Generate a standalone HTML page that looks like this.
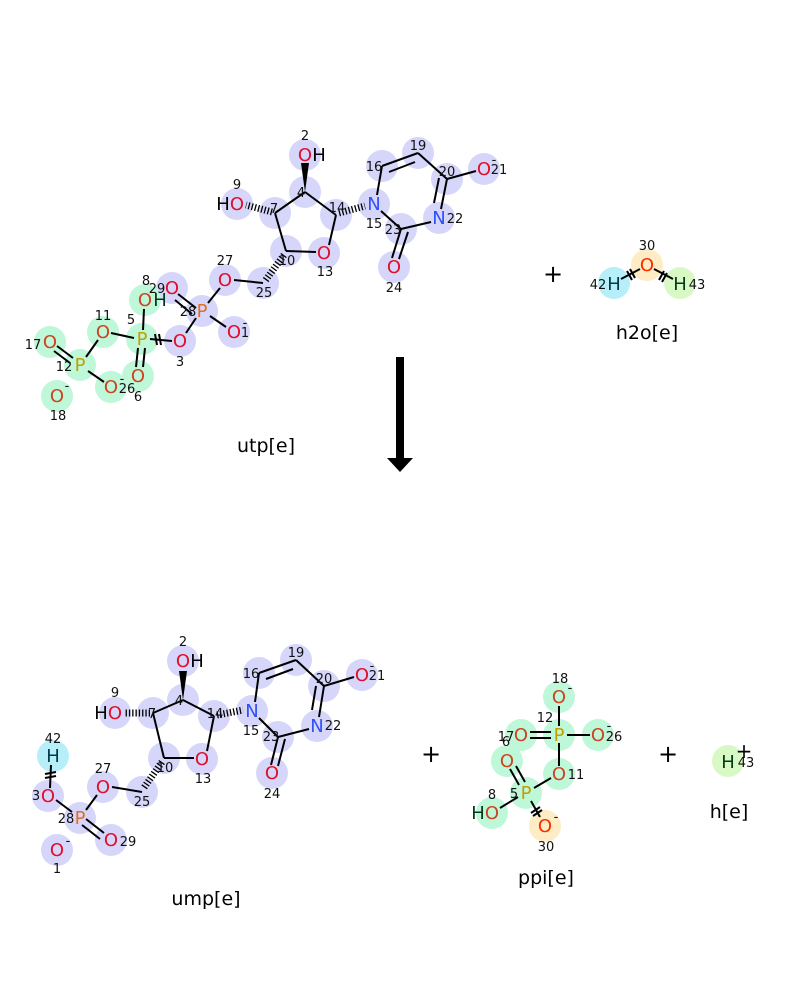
<!DOCTYPE html>
<html><head><meta charset="utf-8"><style>
html,body{margin:0;padding:0;background:#fff;width:800px;height:1000px;overflow:hidden}
svg{display:block}
text{font-family:"DejaVu Sans","Liberation Sans",sans-serif}
.a{font-size:18px;text-anchor:middle}
.n{font-size:13px;text-anchor:middle;fill:#111}
.t{font-size:19px;text-anchor:middle;fill:#000}
.O{fill:#e0102a}.Og{fill:#cc4422}.P{fill:#e07020}.Pg{fill:#c0a000}.N{fill:#3050f8}.H{fill:#000}.Hg{fill:#003a1a}
line{stroke:#000;stroke-width:2}
.h{stroke-width:7;stroke-dasharray:1.3 2}
circle{r:16px}
</style></head><body>
<svg width="800" height="1000" viewBox="0 0 800 1000" xmlns="http://www.w3.org/2000/svg">
<!-- ================= UTP ================= -->
<g fill="#d6d6fa">
<circle cx="305" cy="155" r="16"/><circle cx="305" cy="192" r="16"/><circle cx="275" cy="213" r="16"/>
<circle cx="237" cy="204" r="16"/><circle cx="336" cy="215" r="16"/><circle cx="374" cy="204" r="16"/>
<circle cx="286" cy="251" r="16"/><circle cx="324" cy="253" r="16"/><circle cx="263" cy="283" r="16"/>
<circle cx="225" cy="280" r="16"/><circle cx="202" cy="311" r="16"/><circle cx="172" cy="288" r="16"/>
<circle cx="234" cy="332" r="16"/><circle cx="180" cy="341" r="16"/>
<circle cx="382" cy="166" r="16"/><circle cx="418" cy="153" r="16"/><circle cx="447" cy="179" r="16"/>
<circle cx="484" cy="169" r="16"/><circle cx="439" cy="218" r="16"/><circle cx="401" cy="229" r="16"/>
<circle cx="394" cy="267" r="16"/>
</g>
<g fill="#bff7d9">
<circle cx="142" cy="339" r="16"/><circle cx="145" cy="300" r="16"/><circle cx="138" cy="376" r="16"/>
<circle cx="103" cy="332" r="16"/><circle cx="80" cy="365" r="16"/><circle cx="50" cy="342" r="16"/>
<circle cx="111" cy="387" r="16"/><circle cx="57" cy="396" r="16"/>
</g>
<g>
<polygon points="305,192 301,163 309,163" fill="#000"/>
<line x1="305" y1="192" x2="275" y2="213"/><line x1="305" y1="192" x2="336" y2="215"/>
<line x1="275" y1="213" x2="286" y2="251"/><line x1="286" y1="251" x2="316" y2="252"/>
<line x1="329" y1="245" x2="336" y2="215"/>
<line class="h" x1="272" y1="212" x2="246" y2="205"/>
<line class="h" x1="339" y1="213" x2="365" y2="206"/>
<line class="h" x1="284" y1="255" x2="265" y2="281"/>
<line x1="263" y1="283" x2="234" y2="280"/>
<line x1="220" y1="288" x2="208" y2="303"/>
<line x1="196" y1="308" x2="178" y2="294"/><line x1="192" y1="314" x2="175" y2="300"/>
<line x1="210" y1="316" x2="226" y2="327"/>
<line x1="196" y1="318" x2="186" y2="333"/>
<line x1="150" y1="339" x2="172" y2="341"/>
<line x1="155" y1="334" x2="157" y2="345"/><line x1="159" y1="334" x2="161" y2="345"/>
<line x1="143" y1="330" x2="144" y2="309"/>
<line x1="138" y1="348" x2="136" y2="367"/><line x1="145" y1="348" x2="143" y2="367"/>
<line x1="134" y1="338" x2="111" y2="333"/>
<line x1="98" y1="340" x2="86" y2="357"/>
<line x1="73" y1="358" x2="57" y2="346"/><line x1="70" y1="363" x2="54" y2="351"/>
<line x1="88" y1="371" x2="104" y2="382"/>
<line x1="377" y1="195" x2="382" y2="166"/>
<line x1="382" y1="166" x2="418" y2="153"/><line x1="389" y1="172" x2="415" y2="162"/>
<line x1="418" y1="153" x2="447" y2="179"/><line x1="447" y1="179" x2="476" y2="171"/>
<line x1="447" y1="179" x2="441" y2="209"/><line x1="439" y1="178" x2="434" y2="203"/>
<line x1="431" y1="222" x2="401" y2="229"/><line x1="401" y1="229" x2="381" y2="211"/>
<line x1="401" y1="229" x2="392" y2="258"/><line x1="408" y1="232" x2="399" y2="259"/>
</g>
<text class="a O" x="305" y="161">O</text><text class="a H" x="319" y="161">H</text><text class="n" x="305" y="140">2</text>
<text class="n" x="301" y="197">4</text><text class="n" x="274" y="213">7</text>
<text class="a H" x="223" y="210">H</text><text class="a O" x="237" y="210">O</text><text class="n" x="237" y="189">9</text>
<text class="n" x="337" y="212">14</text>
<text class="a N" x="374" y="210">N</text><text class="n" x="374" y="228">15</text>
<text class="n" x="287" y="265">10</text>
<text class="a O" x="324" y="259">O</text><text class="n" x="325" y="276">13</text>
<text class="n" x="264" y="297">25</text>
<text class="a O" x="225" y="286">O</text><text class="n" x="225" y="265">27</text>
<text class="a P" x="202" y="317">P</text><text class="n" x="188" y="316">28</text>
<text class="a O" x="172" y="294">O</text><text class="n" x="157" y="293">29</text>
<text class="a O" x="234" y="338">O</text><text class="n" x="245" y="337">1</text><text class="n" x="245" y="327">-</text>
<text class="a O" x="180" y="347">O</text><text class="n" x="180" y="366">3</text>
<text class="a Pg" x="142" y="345">P</text><text class="n" x="131" y="324">5</text>
<text class="a Og" x="145" y="306">O</text><text class="a Hg" x="160" y="306">H</text><text class="n" x="146" y="285">8</text>
<text class="a Og" x="138" y="382">O</text><text class="n" x="138" y="401">6</text>
<text class="a Og" x="103" y="338">O</text><text class="n" x="103" y="320">11</text>
<text class="a Pg" x="80" y="371">P</text><text class="n" x="64" y="371">12</text>
<text class="a Og" x="50" y="348">O</text><text class="n" x="33" y="349">17</text>
<text class="a Og" x="111" y="393">O</text><text class="n" x="127" y="393">26</text><text class="n" x="122" y="383">-</text>
<text class="a Og" x="57" y="402">O</text><text class="n" x="67" y="390">-</text><text class="n" x="58" y="420">18</text>
<text class="n" x="374" y="171">16</text><text class="n" x="418" y="150">19</text><text class="n" x="447" y="176">20</text>
<text class="a O" x="484" y="175">O</text><text class="n" x="499" y="174">21</text><text class="n" x="494" y="164">-</text>
<text class="a N" x="439" y="224">N</text><text class="n" x="455" y="223">22</text>
<text class="n" x="393" y="234">23</text>
<text class="a O" x="394" y="273">O</text><text class="n" x="394" y="292">24</text>
<text class="t" x="266" y="452">utp[e]</text>
<!-- water -->
<text class="t" x="553" y="282" style="font-size:24px">+</text>
<circle cx="614" cy="283" r="16" fill="#b6eef9"/><circle cx="647" cy="265" r="16" fill="#fdecc4"/><circle cx="680" cy="283" r="16" fill="#d9f9c4"/>
<line x1="621" y1="279" x2="640" y2="269"/><line x1="654" y1="269" x2="673" y2="279"/>
<line x1="627" y1="271" x2="632" y2="280"/><line x1="630" y1="269" x2="635" y2="278"/>
<line x1="659" y1="280" x2="664" y2="271"/><line x1="662" y1="282" x2="667" y2="273"/>
<text class="a" x="614" y="290" style="fill:#003a4a">H</text><text class="n" x="598" y="289">42</text>
<text class="a" x="647" y="271" style="fill:#ff2a00">O</text><text class="n" x="647" y="250">30</text>
<text class="a Hg" x="680" y="290">H</text><text class="n" x="697" y="289">43</text>
<text class="t" x="647" y="339">h2o[e]</text>
<!-- arrow -->
<rect x="396" y="357" width="8" height="102" fill="#000"/>
<polygon points="387,458 413,458 400,472" fill="#000"/>
<!-- ================= UMP ================= -->
<g fill="#d6d6fa">
<circle cx="183" cy="661" r="16"/><circle cx="183" cy="700" r="16"/><circle cx="153" cy="713" r="16"/>
<circle cx="115" cy="713" r="16"/><circle cx="214" cy="716" r="16"/><circle cx="252" cy="711" r="16"/>
<circle cx="164" cy="758" r="16"/><circle cx="202" cy="759" r="16"/><circle cx="142" cy="792" r="16"/>
<circle cx="103" cy="787" r="16"/><circle cx="80" cy="818" r="16"/><circle cx="111" cy="840" r="16"/>
<circle cx="48" cy="796" r="16"/><circle cx="57" cy="850" r="16"/>
<circle cx="259" cy="673" r="16"/><circle cx="296" cy="660" r="16"/><circle cx="324" cy="686" r="16"/>
<circle cx="362" cy="675" r="16"/><circle cx="317" cy="726" r="16"/><circle cx="278" cy="737" r="16"/>
<circle cx="272" cy="773" r="16"/>
</g>
<circle cx="53" cy="756" r="16" fill="#b6eef9"/>
<g>
<polygon points="183,700 179,671 187,671" fill="#000"/>
<line x1="183" y1="700" x2="153" y2="713"/><line x1="183" y1="700" x2="214" y2="716"/>
<line x1="153" y1="713" x2="164" y2="758"/><line x1="164" y1="758" x2="194" y2="758"/>
<line x1="207" y1="751" x2="214" y2="716"/>
<line class="h" x1="150" y1="713" x2="125" y2="713"/>
<line class="h" x1="217" y1="715" x2="243" y2="710"/>
<line class="h" x1="162" y1="762" x2="143" y2="789"/>
<line x1="142" y1="792" x2="112" y2="787"/>
<line x1="97" y1="795" x2="86" y2="810"/>
<line x1="56" y1="800" x2="72" y2="812"/>
<line x1="86" y1="819" x2="104" y2="833"/><line x1="82" y1="825" x2="100" y2="839"/>
<line x1="51" y1="765" x2="50" y2="788"/><line x1="45" y1="774" x2="56" y2="772"/><line x1="45" y1="778" x2="56" y2="776"/>
<line x1="255" y1="702" x2="259" y2="673"/>
<line x1="259" y1="673" x2="296" y2="660"/><line x1="266" y1="679" x2="293" y2="669"/>
<line x1="296" y1="660" x2="324" y2="686"/><line x1="324" y1="686" x2="354" y2="677"/>
<line x1="324" y1="686" x2="319" y2="717"/><line x1="316" y1="686" x2="312" y2="710"/>
<line x1="309" y1="729" x2="278" y2="737"/><line x1="278" y1="737" x2="259" y2="718"/>
<line x1="278" y1="737" x2="271" y2="765"/><line x1="285" y1="739" x2="278" y2="766"/>
</g>
<text class="a O" x="183" y="667">O</text><text class="a H" x="197" y="667">H</text><text class="n" x="183" y="646">2</text>
<text class="n" x="179" y="705">4</text><text class="n" x="152" y="718">7</text>
<text class="a H" x="101" y="719">H</text><text class="a O" x="115" y="719">O</text><text class="n" x="115" y="697">9</text>
<text class="n" x="215" y="718">14</text>
<text class="a N" x="252" y="717">N</text><text class="n" x="251" y="735">15</text>
<text class="n" x="165" y="772">10</text>
<text class="a O" x="202" y="765">O</text><text class="n" x="203" y="783">13</text>
<text class="n" x="142" y="806">25</text>
<text class="a O" x="103" y="793">O</text><text class="n" x="103" y="773">27</text>
<text class="a P" x="80" y="824">P</text><text class="n" x="66" y="823">28</text>
<text class="a O" x="111" y="846">O</text><text class="n" x="128" y="846">29</text>
<text class="a O" x="48" y="802">O</text><text class="n" x="36" y="800">3</text>
<text class="a" x="53" y="762" style="fill:#003a4a">H</text><text class="n" x="53" y="743">42</text>
<text class="a O" x="57" y="856">O</text><text class="n" x="68" y="845">-</text><text class="n" x="57" y="873">1</text>
<text class="n" x="251" y="678">16</text><text class="n" x="296" y="657">19</text><text class="n" x="324" y="683">20</text>
<text class="a O" x="362" y="681">O</text><text class="n" x="377" y="680">21</text><text class="n" x="372" y="670">-</text>
<text class="a N" x="317" y="732">N</text><text class="n" x="333" y="730">22</text>
<text class="n" x="271" y="741">23</text>
<text class="a O" x="272" y="779">O</text><text class="n" x="272" y="798">24</text>
<text class="t" x="206" y="905">ump[e]</text>
<text class="t" x="431" y="762" style="font-size:24px">+</text>
<!-- ================= PPI ================= -->
<g fill="#bff7d9">
<circle cx="559" cy="697" r="16"/><circle cx="559" cy="735" r="16"/><circle cx="521" cy="735" r="16"/>
<circle cx="598" cy="735" r="16"/><circle cx="559" cy="774" r="16"/><circle cx="507" cy="761" r="16"/>
<circle cx="526" cy="793" r="16"/><circle cx="492" cy="813" r="16"/>
</g>
<circle cx="545" cy="826" r="16" fill="#fdecc4"/>
<g>
<line x1="559" y1="706" x2="559" y2="726"/>
<line x1="530" y1="732" x2="551" y2="732"/><line x1="530" y1="738" x2="551" y2="738"/>
<line x1="567" y1="735" x2="590" y2="735"/>
<line x1="559" y1="743" x2="559" y2="766"/>
<line x1="551" y1="778" x2="534" y2="788"/>
<line x1="510" y1="769" x2="519" y2="785"/><line x1="516" y1="766" x2="525" y2="782"/>
<line x1="518" y1="797" x2="500" y2="808"/>
<line x1="531" y1="801" x2="540" y2="817"/><line x1="531" y1="813" x2="540" y2="807"/><line x1="533" y1="816" x2="542" y2="810"/>
</g>
<text class="a Og" x="559" y="703">O</text><text class="n" x="570" y="692">-</text><text class="n" x="560" y="683">18</text>
<text class="a Pg" x="559" y="741">P</text><text class="n" x="545" y="722">12</text>
<text class="a Og" x="521" y="741">O</text><text class="n" x="506" y="741">17</text>
<text class="a Og" x="598" y="741">O</text><text class="n" x="614" y="741">26</text><text class="n" x="609" y="730">-</text>
<text class="a Og" x="559" y="780">O</text><text class="n" x="576" y="779">11</text>
<text class="a Og" x="507" y="767">O</text><text class="n" x="506" y="746">6</text>
<text class="a Pg" x="526" y="799">P</text><text class="n" x="514" y="798">5</text>
<text class="a Hg" x="478" y="819">H</text><text class="a Og" x="492" y="819">O</text><text class="n" x="492" y="799">8</text>
<text class="a" x="545" y="832" style="fill:#ff2a00">O</text><text class="n" x="556" y="821">-</text><text class="n" x="546" y="851">30</text>
<text class="t" x="546" y="884">ppi[e]</text>
<text class="t" x="668" y="762" style="font-size:24px">+</text>
<circle cx="728" cy="761" r="16" fill="#d9f9c4"/>
<text class="a Hg" x="728" y="768">H</text><text class="n" x="746" y="767">43</text>
<text class="t" x="744" y="758" style="font-size:20px">+</text>
<text class="t" x="729" y="818">h[e]</text>
</svg>
</body></html>
